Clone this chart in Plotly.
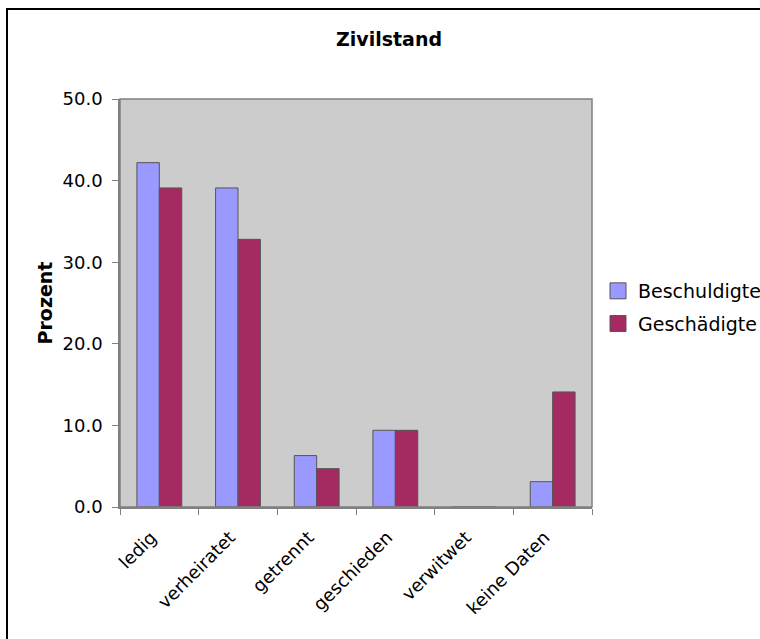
import plotly.graph_objects as go

categories = ["ledig", "verheiratet", "getrennt", "geschieden", "verwitwet", "keine Daten"]
beschuldigte = [42.2, 39.1, 6.3, 9.4, 0.0, 3.1]
geschaedigte = [39.1, 32.8, 4.7, 9.4, 0.0, 14.1]
series_names = ["Beschuldigte", "Geschädigte"]
series_colors = ["#9999ff", "#a52a62"]
y_ticks = [0, 10, 20, 30, 40, 50]
y_tick_labels = ["0.0", "10.0", "20.0", "30.0", "40.0", "50.0"]

W, H = 760, 639
L, R, T, B = 120, 168, 99, 132
font = "DejaVu Sans"

fig = go.Figure()
for name, vals, col in zip(series_names, [beschuldigte, geschaedigte], series_colors):
    fig.add_trace(go.Bar(name=name, x=categories, y=vals, showlegend=False, legendgroup=name,
                         marker=dict(color=col, line=dict(color="#555555", width=1))))
# legend entries with larger square swatches
for name, col in zip(series_names, series_colors):
    fig.add_trace(go.Scatter(name=name, x=[None], y=[None], mode="markers", legendgroup=name,
                             marker=dict(symbol="square", size=16, color=col,
                                         line=dict(color="#555555", width=1))))

pw = W - L - R
ph = H - T - B
def px_x(x):
    return (x - L) / pw
def px_y(y):
    return 1 - (y - T) / ph

fig.update_layout(
    width=W, height=H,
    margin=dict(l=L, r=R, t=T, b=B, autoexpand=False),
    paper_bgcolor="white",
    plot_bgcolor="#cccccc",
    barmode="group",
    bargap=0.43,
    bargroupgap=0,
    font=dict(family=font, size=18, color="black"),
    title=dict(text="<b>Zivilstand</b>", x=px_x(389), xref="paper", xanchor="center",
               y=1 - 39 / H, yanchor="middle", font=dict(family=font, size=19)),
    showlegend=True,
    legend=dict(x=px_x(598), y=px_y(272), xanchor="left", yanchor="top",
                font=dict(family=font, size=19), bgcolor="rgba(0,0,0,0)",
                itemwidth=30, tracegroupgap=5, traceorder="grouped"),
    xaxis=dict(type="category", tickangle=-45, showgrid=False, showline=True,
               linecolor="#808080", linewidth=1.5, ticks="outside", tickson="boundaries",
               ticklen=6, tickcolor="#808080", mirror=False, ticklabelstandoff=3,
               tickvals=categories, ticktext=[c + "\u00a0\u00a0" for c in categories],
               tickfont=dict(family=font, size=18)),
    yaxis=dict(range=[0, 50], tickvals=y_ticks, ticktext=y_tick_labels, showgrid=False,
               showline=True, linecolor="#808080", linewidth=1.5, ticks="outside",
               ticklen=6, tickcolor="#808080", zeroline=False, ticklabelstandoff=6,
               tickfont=dict(family=font, size=18),
               title=dict(text="<b>Prozent</b>", standoff=5, font=dict(family=font, size=19))),
    shapes=[
        dict(type="rect", xref="paper", yref="paper",
             x0=px_x(7), x1=px_x(770), y0=px_y(9), y1=px_y(650),
             line=dict(color="black", width=2), fillcolor="rgba(0,0,0,0)", layer="above"),
        dict(type="rect", xref="paper", yref="paper", x0=0, x1=1, y0=0, y1=1,
             line=dict(color="#808080", width=1.5), fillcolor="rgba(0,0,0,0)", layer="above"),
    ],
)

fig.write_html("out.html", config={"displayModeBar": False},
               post_script="document.body.style.margin='0';")
